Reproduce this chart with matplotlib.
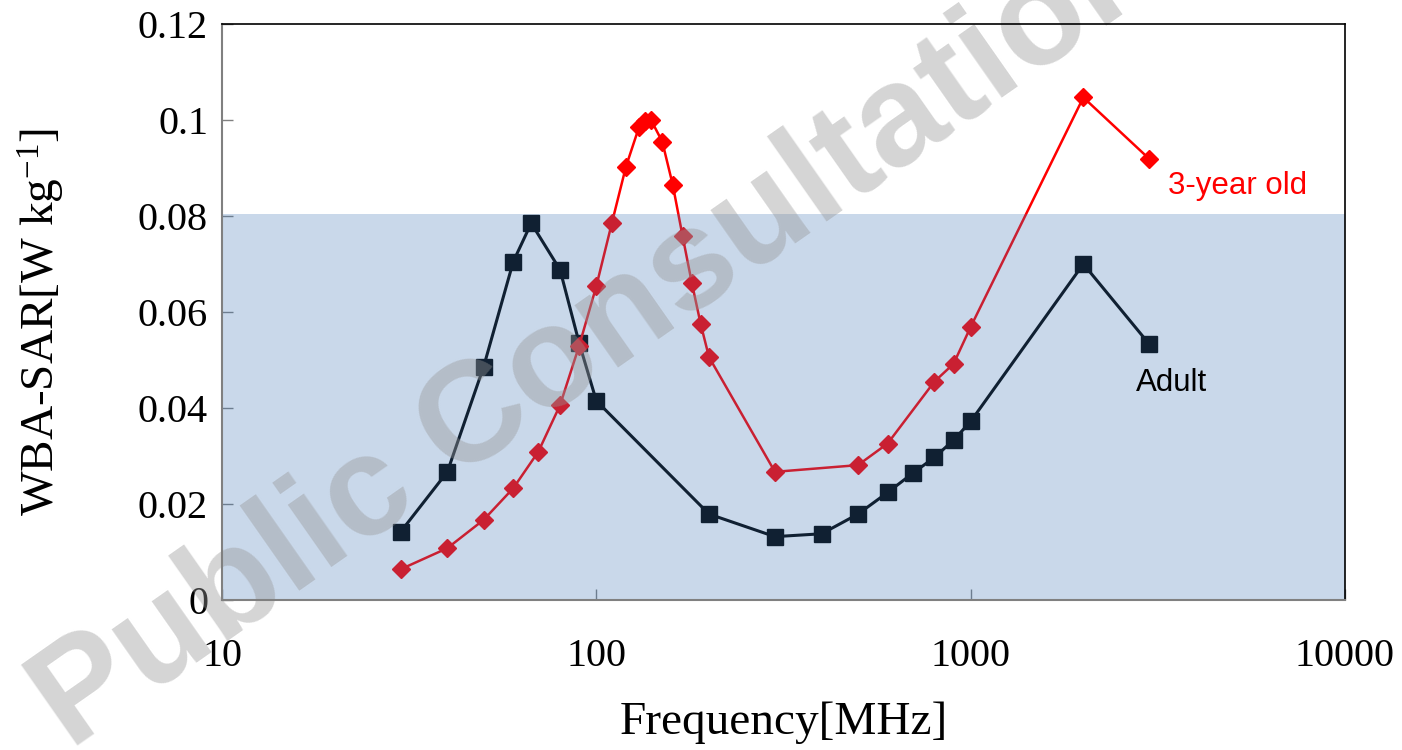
import matplotlib
matplotlib.use("Agg")
import matplotlib.pyplot as plt

# ---- data ----
adult_freq = [30, 40, 50, 60, 67, 80, 90, 100, 200, 300, 400, 500, 600, 700, 800, 900, 1000, 2000, 3000]
adult_sar = [0.0142, 0.0267, 0.0486, 0.0705, 0.0785, 0.0688, 0.0535, 0.0415, 0.0179, 0.0132, 0.0138,
             0.0179, 0.0224, 0.0264, 0.0297, 0.0333, 0.0372, 0.0700, 0.0533]

child_freq = [30, 40, 50, 60, 70, 80, 90, 100, 110, 120, 130, 135, 140, 150, 160, 170, 180, 190, 200,
              300, 500, 600, 800, 900, 1000, 2000, 3000]
child_sar = [0.0064, 0.0108, 0.0167, 0.0233, 0.0309, 0.0406, 0.0530, 0.0654, 0.0785, 0.0903, 0.0985,
             0.0998, 0.1000, 0.0955, 0.0865, 0.0758, 0.0660, 0.0575, 0.0506,
             0.0267, 0.0281, 0.0326, 0.0455, 0.0492, 0.0569, 0.1047, 0.0919]

shade_top = 0.0804
y_ticks = [0, 0.02, 0.04, 0.06, 0.08, 0.1, 0.12]
y_tick_labels = ["0", "0.02", "0.04", "0.06", "0.08", "0.1", "0.12"]
x_ticks = [10, 100, 1000, 10000]
x_tick_labels = ["10", "100", "1000", "10000"]

plt.rcParams['mathtext.fontset'] = 'custom'
plt.rcParams['mathtext.rm'] = 'Liberation Serif'
plt.rcParams['mathtext.it'] = 'Liberation Serif:italic'

W, H = 1402, 750
fig = plt.figure(figsize=(W / 100, H / 100), dpi=100)
ax = fig.add_axes([222 / W, 1 - 600 / H, (1345 - 222) / W, (600 - 24) / H])

ax.plot(adult_freq, adult_sar, color='black', lw=2.2, marker='s', ms=11, zorder=2)
ax.plot(child_freq, child_sar, color='#FF0000', lw=1.8, marker='D', ms=9.5, zorder=2.1)

# translucent shaded band (drawn over the lines)
ax.axhspan(0, shade_top, color='#3D76B7', alpha=0.28, lw=0, zorder=2.2)

ax.set_xscale('log')
ax.set_xlim(10, 10000)
ax.set_ylim(0, 0.12)
ax.set_xticks(x_ticks)
ax.set_xticklabels(x_tick_labels)
ax.set_yticks(y_ticks)
ax.set_yticklabels(y_tick_labels)
ax.minorticks_off()
ax.tick_params(axis='both', direction='in', length=8, width=1.0, color='#808080',
               labelsize=29, labelfontfamily='Liberation Serif')
ax.tick_params(axis='x', pad=27.5, top=False)
ax.tick_params(axis='y', pad=10, right=False)

for side in ['left', 'bottom']:
    ax.spines[side].set_color('#808080')
    ax.spines[side].set_linewidth(1.5)
for side in ['top', 'right']:
    ax.spines[side].set_color('black')
    ax.spines[side].set_linewidth(1.2)
for s in ax.spines.values():
    s.set_zorder(2.5)

ax.set_xlabel('Frequency[MHz]', fontsize=34, family='Liberation Serif', labelpad=19)
ax.set_ylabel(r'WBA-SAR[W kg$^{\mathrm{-1}}$]', fontsize=34, family='Liberation Serif', va='center')
ax.yaxis.set_label_coords(-0.161, 0.482)

ax.text(1168 / W, 1 - 186 / H, '3-year old', transform=fig.transFigure, color='#FF0000',
        fontsize=22.5, family='Liberation Sans', ha='left', va='center', zorder=3)
ax.text(1136 / W, 1 - 383 / H, 'Adult', transform=fig.transFigure, color='black',
        fontsize=22.5, family='Liberation Sans', ha='left', va='center', zorder=3)

# watermark
ax.text(70 / W, 1 - 751 / H, 'Public Consultation', transform=fig.transFigure,
        fontsize=103, family='Liberation Sans', weight='bold', color='#969696', alpha=0.4,
        rotation=35, rotation_mode='anchor', ha='left', va='baseline', zorder=2.4, clip_on=False)

fig.savefig('out.png', dpi=100)
